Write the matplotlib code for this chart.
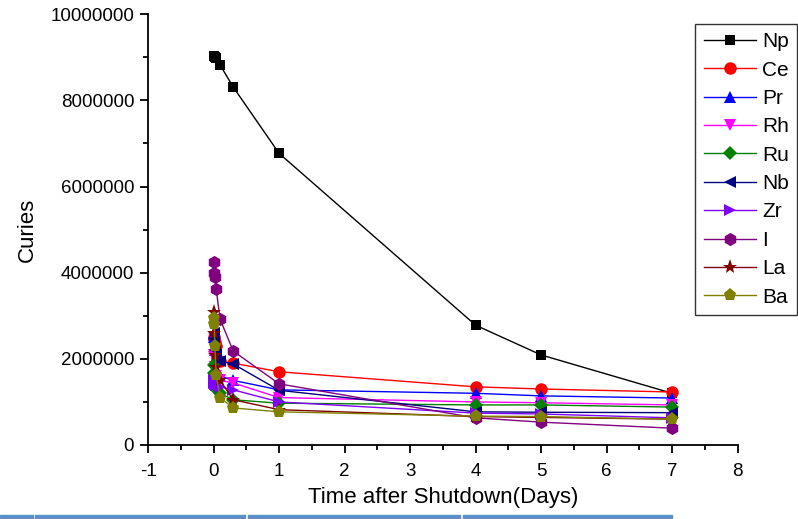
import matplotlib.pyplot as plt
from matplotlib.patches import Rectangle
from matplotlib.ticker import MultipleLocator

plt.rcParams['font.family'] = ['Liberation Sans', 'DejaVu Sans']
plt.rcParams['axes.unicode_minus'] = False

# time after shutdown (days)
days = [0, 0.01, 0.02, 0.04, 0.1, 0.3, 1, 4, 5, 7]

# activity in curies
np_ci = [9030000, 9020000, 9000000, 8980000, 8820000, 8310000, 6770000, 2780000, 2090000, 1200000]
ce_ci = [2500000, 2450000, 2400000, 2300000, 1950000, 1900000, 1700000, 1350000, 1300000, 1230000]
pr_ci = [2600000, 2500000, 2200000, 2000000, 1600000, 1500000, 1280000, 1200000, 1140000, 1090000]
rh_ci = [2100000, 2050000, 1800000, 1600000, 1500000, 1440000, 1100000, 1000000, 980000, 930000]
ru_ci = [1850000, 1670000, 1440000, 1300000, 1200000, 1050000, 970000, 930000, 930000, 880000]
nb_ci = [2600000, 2450000, 2200000, 2100000, 1950000, 1880000, 1270000, 770000, 760000, 750000]
zr_ci = [1500000, 1450000, 1420000, 1400000, 1350000, 1280000, 1000000, 740000, 720000, 630000]
i_ci = [4250000, 4000000, 3900000, 3620000, 2920000, 2180000, 1420000, 630000, 530000, 390000]
la_ci = [3080000, 2600000, 2100000, 1800000, 1500000, 1050000, 820000, 660000, 640000, 600000]
ba_ci = [2950000, 2800000, 2300000, 1620000, 1100000, 860000, 770000, 670000, 660000, 600000]

series = [
    ("Np", np_ci, "#000000", "s", 7.5),
    ("Ce", ce_ci, "#ff0000", "o", 9),
    ("Pr", pr_ci, "#0000ff", "^", 9),
    ("Rh", rh_ci, "#ff00ff", "v", 9),
    ("Ru", ru_ci, "#008000", "D", 7),
    ("Nb", nb_ci, "#000080", "<", 9),
    ("Zr", zr_ci, "#8000ff", ">", 9),
    ("I", i_ci, "#800080", "h", 9.5),
    ("La", la_ci, "#800000", "*", 11),
    ("Ba", ba_ci, "#808000", "p", 9.5),
]

fig = plt.figure(figsize=(7.98, 5.19), dpi=100)
ax = fig.add_axes([0.1855, 0.1426, 0.739, 0.830])

for name, vals, col, mk, ms in series:
    ax.plot(days, vals, color=col, marker=mk, markersize=ms, linewidth=1,
            markeredgewidth=0, label=name)

ax.set_xlim(-1, 8)
ax.set_ylim(0, 10000000)
ax.xaxis.set_major_locator(MultipleLocator(1))
ax.xaxis.set_minor_locator(MultipleLocator(0.5))
ax.yaxis.set_major_locator(MultipleLocator(2000000))
ax.yaxis.set_minor_locator(MultipleLocator(1000000))
ax.ticklabel_format(style="plain", axis="y")
ax.spines["top"].set_visible(False)
ax.spines["right"].set_visible(False)
ax.spines["left"].set_linewidth(1.3)
ax.spines["bottom"].set_linewidth(1.3)
ax.tick_params(which="major", direction="out", length=6, width=1.3,
               labelsize=13.5, pad=4)
ax.tick_params(axis="x", which="major", pad=7)
ax.tick_params(which="minor", direction="out", length=3.5, width=1.3)
ax.set_xlabel("Time after Shutdown(Days)", fontsize=16, labelpad=5)
ax.set_ylabel("Curies", fontsize=16, labelpad=9)

leg = fig.legend(loc="upper right", bbox_to_anchor=(0.999, 0.954), fontsize=15,
                 frameon=True, fancybox=False, handlelength=2.5,
                 labelspacing=0.45, borderpad=0.4, handletextpad=0.3,
                 borderaxespad=0)
leg.get_frame().set_edgecolor("black")
leg.get_frame().set_linewidth(1)

# strip of blue cells along the bottom edge
for x0, x1 in [(0, 33), (35, 245), (248, 460), (463, 672)]:
    fig.patches.append(Rectangle((x0 / 798, 0), (x1 - x0) / 798, 4 / 519,
                                 transform=fig.transFigure, color="#5b8fc9"))

fig.savefig("out.png", dpi=100)
